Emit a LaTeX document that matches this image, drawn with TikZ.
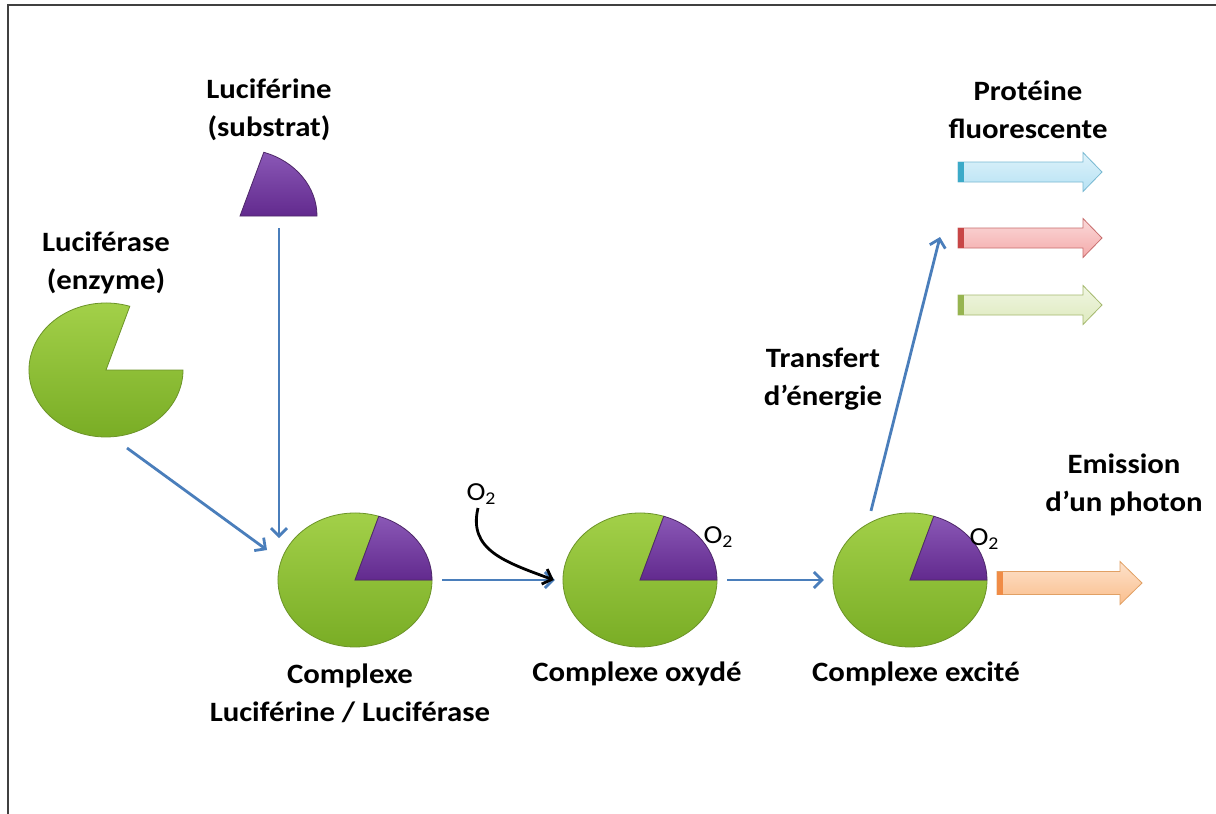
\documentclass[tikz,border=0pt]{standalone}
\usepackage{fontspec}
\setmainfont{Carlito}
\newfontfamily\lblfont[FakeStretch=1.1]{Carlito}
\usetikzlibrary{arrows.meta,shapes.geometric,calc}
\definecolor{arrblue}{RGB}{74,126,187}
\definecolor{gtop}{RGB}{165,210,75}
\definecolor{gbot}{RGB}{120,172,36}
\definecolor{gedge}{RGB}{108,148,40}
\definecolor{ptop}{RGB}{138,88,182}
\definecolor{pbot}{RGB}{98,42,142}
\definecolor{pedge}{RGB}{78,40,105}
\definecolor{cyanF}{RGB}{182,226,244}
\definecolor{cyanE}{RGB}{120,185,210}
\definecolor{cyanC}{RGB}{60,170,200}
\definecolor{redF}{RGB}{244,170,170}
\definecolor{redE}{RGB}{200,110,110}
\definecolor{redC}{RGB}{200,70,70}
\definecolor{grnF}{RGB}{222,234,190}
\definecolor{grnE}{RGB}{165,185,110}
\definecolor{grnC}{RGB}{150,180,80}
\definecolor{orgF}{RGB}{250,190,140}
\definecolor{orgE}{RGB}{225,160,100}
\definecolor{orgC}{RGB}{240,140,70}
\newcommand\mygreenpie[1]{\shade[greenpart] (#1) -- ++(72:77 and 67) arc[start angle=72,end angle=360,x radius=77,y radius=67] -- cycle;}
\newcommand\mypurplepie[1]{\shade[purplepart] (#1) -- ++(0:77 and 67) arc[start angle=0,end angle=72,x radius=77,y radius=67] -- cycle;}
\newcommand\blkarrow[9]{%
  \shade[top color=#7!45!white, bottom color=#7, draw=#8, line width=0.8pt]
    (#1,#4+#5) -- (#3,#4+#5) -- (#3,#4+#6) -- (#2,#4) -- (#3,#4-#6) -- (#3,#4-#5) -- (#1,#4-#5) -- cycle;
  \fill[#9] (#1,#4+#5) rectangle (#1+6,#4-#5);}
\newcommand\oxy{O\raisebox{-4.5pt}{\fontsize{18}{18}\selectfont 2}}
\begin{document}
\begin{tikzpicture}[x=1pt,y=1pt,
  lbl/.style={font=\lblfont\fontsize{28}{38}\selectfont\bfseries, align=center, inner sep=0},
  olbl/.style={font=\lblfont\fontsize{26}{26}\selectfont, inner sep=0},
  flow/.style={draw=arrblue, line width=2.8pt, -{Straight Barb[length=8pt,width=16pt,line width=2.8pt]}},
  anchorbox/.style={ellipse, minimum width=154pt, minimum height=134pt, inner sep=0, draw=none},
  greenpart/.style={top color=gtop, bottom color=gbot, draw=gedge, line width=0.8pt},
  purplepart/.style={top color=ptop, bottom color=pbot, draw=pedge, line width=0.8pt},
]
\useasboundingbox (0,0) rectangle (1216,-814);
\fill[white] (0,0) rectangle (1216,-814);
\draw[line width=1.3pt, black!75] (8,-814) -- (8,-5) -- (1216,-5);

% anchor nodes
\node[anchorbox] (enz) at (106,-370) {};
\node[minimum width=79pt, minimum height=64pt, inner sep=0] (sub) at (278.5,-184) {};
\node[anchorbox] (c1) at (355,-580) {};
\node[anchorbox] (c2) at (640,-580) {};
\node[anchorbox] (c3) at (910,-580) {};

% pies
\mygreenpie{106,-370}
\mypurplepie{240,-216}
\mygreenpie{355,-580}\mypurplepie{355,-580}
\mygreenpie{640,-580}\mypurplepie{640,-580}
\mygreenpie{910,-580}\mypurplepie{910,-580}

% labels
\node[lbl] (lsub) at (269,-110) {Luciférine\\(substrat)};
\node[lbl] (lenz) at (106,-263) {Luciférase\\(enzyme)};
\node[lbl] (lc1) at (350,-693) {Complexe\\Luciférine / Luciférase};
\node[lbl] (lc2) at (637,-674) {Complexe oxydé};
\node[lbl] (lc3) at (916,-674) {Complexe excité};
\node[lbl] (ltr) at (823,-379) {Transfert\\d’énergie};
\node[lbl] (lpf) at (1028,-110) {Protéine\\fluorescente};
\node[lbl] (lem) at (1124,-485) {Emission\\d’un photon};
\node[olbl] (o2in) at (481,-494) {\oxy};
\node[olbl] (o2c2) at (718,-537) {\oxy};
\node[olbl] (o2c3) at (984,-539) {\oxy};

% connector end points
\coordinate (enzout) at (127,-448);
\coordinate (c1inA) at (267,-550);
\coordinate (c1inB) at (279,-538);
\coordinate (trend) at (940,-237);

\draw[flow] (enzout) -- (c1inA);
\draw[flow] (sub.south -| c1inB) ++(0,-12) -- (c1inB);
\draw[flow, shorten <=10pt, shorten >=8pt] (c1.east) -- (c2.west);
\draw[flow, shorten <=10pt, shorten >=9pt] (c2.east) -- (c3.west);
\draw[flow, shorten <=4pt] ($(c3.north)+(-40,-2)$) -- (trend);
\draw[black, line width=2.8pt, -{Straight Barb[length=8pt,width=16pt,line width=2.8pt]}]
  (478,-508) .. controls (468,-550) and (505,-562) .. ([xshift=-9pt]c2.west);

% block arrows
\blkarrow{958}{1102}{1083}{-172}{10}{19.5}{cyanF}{cyanE}{cyanC}
\blkarrow{958}{1102}{1083}{-238}{10}{19.5}{redF}{redE}{redC}
\blkarrow{958}{1102}{1083}{-305}{10}{19.5}{grnF}{grnE}{grnC}
\blkarrow{997}{1142}{1120}{-583}{11.5}{21.5}{orgF}{orgE}{orgC}
\end{tikzpicture}
\end{document}
